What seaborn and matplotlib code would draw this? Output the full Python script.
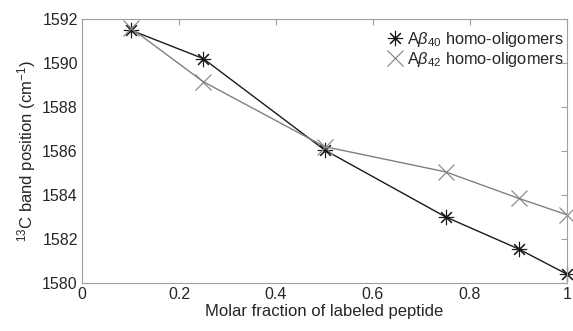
import matplotlib
matplotlib.use("Agg")
import matplotlib.pyplot as plt
import seaborn as sns
import pandas as pd

# Molar fraction of labeled peptide
fraction = [0.1, 0.25, 0.5, 0.75, 0.9, 1.0]
# 13C band positions (cm^-1)
abeta40 = [1591.5, 1590.2, 1586.05, 1583.0, 1581.55, 1580.4]
abeta42 = [1591.6, 1589.15, 1586.2, 1585.05, 1583.85, 1583.1]
labels = [r"A$\beta_{40}$ homo-oligomers", r"A$\beta_{42}$ homo-oligomers"]
xticks = [0, 0.2, 0.4, 0.6, 0.8, 1]
yticks = [1580, 1582, 1584, 1586, 1588, 1590, 1592]

df = pd.concat([
    pd.DataFrame({"x": fraction, "y": abeta40, "series": labels[0]}),
    pd.DataFrame({"x": fraction, "y": abeta42, "series": labels[1]}),
])

sns.set_theme(style="white")
plt.rcParams["font.family"] = ["Liberation Sans", "DejaVu Sans"]
plt.rcParams["mathtext.fontset"] = "custom"
plt.rcParams["mathtext.rm"] = "Liberation Sans"
plt.rcParams["mathtext.it"] = "Liberation Sans:italic"

fig = plt.figure(figsize=(5.73, 3.31), dpi=100)
ax = fig.add_axes([82 / 573, 1 - 283 / 331, (567 - 82) / 573, (283 - 19) / 331])

palette = {labels[0]: "#1a1a1a", labels[1]: "#808080"}
markers = {labels[0]: (8, 2, 0), labels[1]: "x"}
sns.lineplot(data=df, x="x", y="y", hue="series", style="series",
             palette=palette, markers=markers, dashes=False,
             linewidth=1.0, markersize=11, markeredgewidth=0.8,
             ax=ax, legend=True)
for ln in ax.lines:
    ln.set_markeredgecolor(ln.get_color())
    ln.set_clip_on(False)

ax.set_xlim(0, 1)
ax.set_ylim(1580, 1592)
ax.set_xticks(xticks)
ax.set_xticklabels(["0", "0.2", "0.4", "0.6", "0.8", "1"])
ax.set_yticks(yticks)
ax.tick_params(direction="in", length=4, width=0.8, color="#a0a0a0",
               labelsize=11.5, labelcolor="#262626", top=True, right=True,
               pad=3)
for s in ax.spines.values():
    s.set_visible(True)
    s.set_color("#a0a0a0")
    s.set_linewidth(0.8)

ax.set_xlabel("Molar fraction of labeled peptide", fontsize=12, color="#262626", labelpad=1)
ax.set_ylabel(r"$^{13}$C band position (cm$^{-1}$)", fontsize=12, color="#262626", labelpad=3)

leg = ax.legend(loc="upper right", bbox_to_anchor=(1.01, 0.99), frameon=False,
                fontsize=11.8, handlelength=0.8, handletextpad=0.3,
                borderaxespad=0.1, labelspacing=0.05)
for t in leg.get_texts():
    t.set_color("#262626")
for h in leg.legend_handles:
    h.set_markeredgecolor(h.get_color())
    h.set_linestyle("none")

fig.savefig("out.png", dpi=100)
